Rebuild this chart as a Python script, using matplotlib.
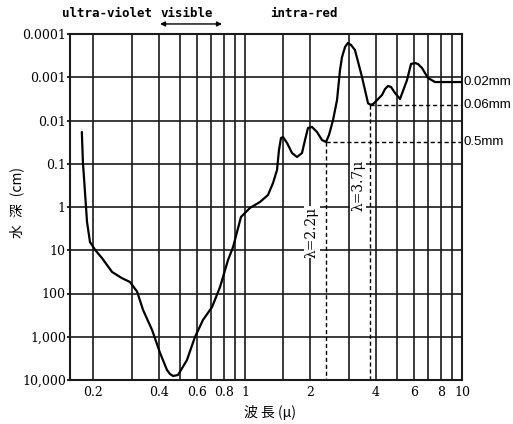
import matplotlib
matplotlib.use("Agg")
import matplotlib.pyplot as plt
from matplotlib.ticker import FixedLocator, NullLocator, FixedFormatter
from matplotlib.transforms import offset_copy

# ---- data (wavelength in micron, water depth in cm) ----
wavelength = [0.177, 0.179, 0.183, 0.187, 0.193, 0.204, 0.219, 0.244, 0.270,
              0.295, 0.318, 0.339, 0.373, 0.406, 0.437, 0.451, 0.466, 0.491, 0.540,
              0.588, 0.640, 0.705, 0.767, 0.835, 0.881, 0.958, 1.054, 1.172, 1.276,
              1.346, 1.404, 1.434, 1.465, 1.497, 1.562, 1.647, 1.736, 1.831, 1.890,
              1.951, 2.036, 2.147, 2.264, 2.362, 2.438, 2.545, 2.655, 2.74, 2.80,
              2.89, 2.98, 3.08, 3.21, 3.32, 3.46, 3.69, 3.78, 3.89, 4.28, 4.42,
              4.56, 4.71, 4.91, 5.18, 5.58, 5.82, 6.07, 6.27, 6.54, 6.97, 7.51, 10.0]
depth = [0.0185, 0.0912, 0.450, 2.22, 6.45, 9.87, 15.1, 31.8, 43.8,
         54.2, 90.0, 241, 698, 2380, 5880, 7260, 8090, 7660, 3450,
         1010, 410, 205, 71, 16.8, 8.4, 1.7, 1.05, 0.766, 0.528,
         0.279, 0.140, 0.0481, 0.0254, 0.0241, 0.0331, 0.0564, 0.0698, 0.0564, 0.0283,
         0.0149, 0.0141, 0.0185, 0.0283, 0.0314, 0.0216, 0.00973, 0.00336, 0.00068, 0.00034,
         0.0002, 0.000161, 0.000179, 0.000234, 0.000443, 0.000986, 0.0040, 0.0043, 0.0042, 0.00257, 0.00187,
         0.00159, 0.00168, 0.00231, 0.00318, 0.00116, 0.000494, 0.00047, 0.000494, 0.00061, 0.00104, 0.00129, 0.00129]

trough_lambda = [2.36, 3.77]
trough_depth = [0.0314, 0.0043]
trough_labels = ["λ=2.2μ", "λ=3.7μ"]
trough_label_depth = [3.8, 0.31]

right_label_depth = [0.00129, 0.0043, 0.0314]
right_labels = ["0.02mm", "0.06mm", "0.5mm"]

x_major = [0.2, 0.4, 0.6, 0.8, 1, 2, 4, 6, 8, 10]
x_major_labels = ["0.2", "0.4", "0.6", "0.8", "1", "2", "4", "6", "8", "10"]
x_minor = [0.3, 0.5, 0.7, 0.9, 1.5, 3, 5, 7, 9]
y_ticks = [0.0001, 0.001, 0.01, 0.1, 1, 10, 100, 1000, 10000]
y_labels = ["0.0001", "0.001", "0.01", "0.1", "1", "10", "100", "1,000", "10,000"]

band_labels = ["ultra-violet", "visible", "intra-red"]
band_label_x = [0.231, 0.540, 1.87]
visible_range = [0.406, 0.783]

# ---- figure ----
W, H = 513, 424
fig = plt.figure(figsize=(W / 100, H / 100), dpi=100)
ax = fig.add_axes([70 / W, 1 - 380 / H, (462 - 70) / W, (380 - 34) / H])

ax.set_xscale("log")
ax.set_yscale("log")
ax.set_xlim(0.1561, 10)
ax.set_ylim(10000, 0.0001)

gridc = "#1a1a1a"
ax.xaxis.set_major_locator(FixedLocator(x_major))
ax.xaxis.set_major_formatter(FixedFormatter(x_major_labels))
ax.xaxis.set_minor_locator(FixedLocator(x_minor))
ax.yaxis.set_major_locator(FixedLocator(y_ticks))
ax.yaxis.set_major_formatter(FixedFormatter(y_labels))
ax.yaxis.set_minor_locator(NullLocator())
ax.grid(True, which="major", axis="both", color=gridc, lw=1.2)
ax.grid(True, which="minor", axis="x", color=gridc, lw=1.2)
ax.set_axisbelow(True)
ax.tick_params(axis="x", which="both", length=0, pad=4)
ax.tick_params(axis="y", which="major", length=2, pad=1, width=1.2)
for lab in ax.get_xticklabels() + ax.get_yticklabels():
    lab.set_fontfamily("DejaVu Serif")
    lab.set_fontsize(9)
for s in ax.spines.values():
    s.set_linewidth(1.5)
    s.set_color(gridc)

# curve
ax.plot(wavelength, depth, color="black", lw=1.6, zorder=3,
        solid_joinstyle="round", solid_capstyle="round")

# dashed guide lines and labels
for lam, d in zip(trough_lambda, trough_depth):
    ax.plot([lam, lam], [d, 10000], color="black", lw=1.0, ls=(0, (3, 2)), zorder=2.5)
    ax.plot([lam, 10], [d, d], color="black", lw=1.0, ls=(0, (3, 2)), zorder=2.5)
for lam, lab, ld, off in zip(trough_lambda, trough_labels, trough_label_depth, [-14, -12]):
    ax.text(lam, ld, lab, rotation=90, ha="center", va="center", fontsize=10,
            family="DejaVu Serif", zorder=4,
            transform=offset_copy(ax.transData, fig=fig, x=off, y=0, units="dots"),
            bbox=dict(facecolor="white", edgecolor="none", pad=0.5))

for d, lab in zip(right_label_depth, right_labels):
    ax.annotate(lab, xy=(1.0, d), xycoords=("axes fraction", "data"),
                xytext=(2, 0), textcoords="offset pixels", ha="left", va="center",
                fontsize=9.5, family="Liberation Sans", annotation_clip=False)

# band labels at top
xt = ax.get_xaxis_transform()
for x, lab in zip(band_label_x, band_labels):
    ax.text(x, 1.058, lab, transform=xt, ha="center", va="center",
            fontsize=9, family="DejaVu Sans Mono", fontweight="bold")
ax.annotate("", xy=(visible_range[1], 1.029), xytext=(visible_range[0], 1.029),
            xycoords=xt, textcoords=xt, annotation_clip=False,
            arrowprops=dict(arrowstyle="<|-|>", color="black", lw=1.0,
                            mutation_scale=7, shrinkA=0, shrinkB=0))

# axis titles
cjk = ["Noto Sans CJK JP", "DejaVu Sans"]
fig.text(17 / W, 1 - 203 / H, "水\u2002深\u2002(cm)", rotation=90, ha="center", va="center",
         fontsize=10, family=cjk)
fig.text(270 / W, 1 - 412 / H, "波 長 (μ)", ha="center", va="center",
         fontsize=10, family=cjk)

fig.savefig("out.png", dpi=100)
